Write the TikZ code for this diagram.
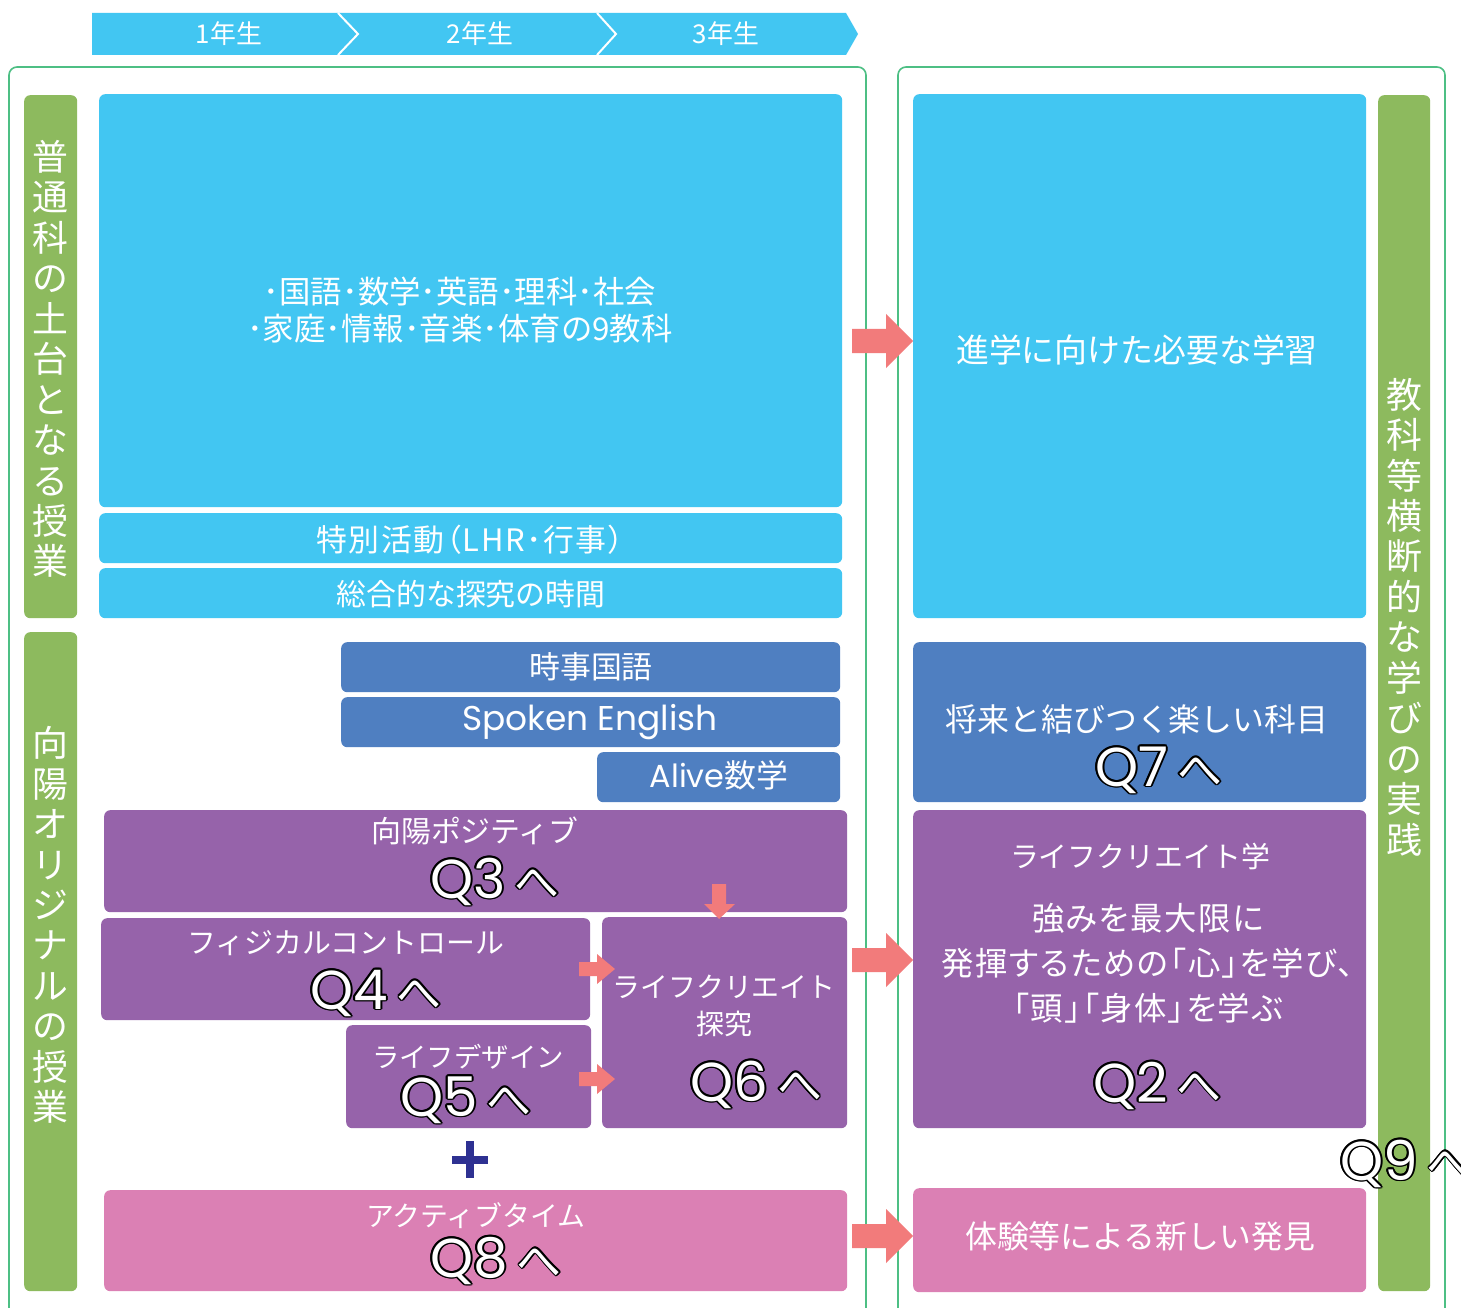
\documentclass[tikz,border=0pt]{standalone}
\usepackage{fontspec}
\setmainfont{Noto Sans CJK JP}
\newfontfamily\popp{Poppins}
\newfontfamily\paltf[RawFeature=+palt]{Noto Sans CJK JP}
\newfontfamily\paltw[RawFeature=+palt, LetterSpace=5]{Noto Sans CJK JP}
\definecolor{cyanb}{HTML}{42C6F2}
\definecolor{blueb}{HTML}{4F7FC1}
\definecolor{purpb}{HTML}{9663AA}
\definecolor{pinkb}{HTML}{DB80B4}
\definecolor{greenb}{HTML}{8DBA5E}
\definecolor{framec}{HTML}{4DBF84}
\definecolor{arrc}{HTML}{F27B7B}
\definecolor{navyc}{HTML}{2E3192}
\newcommand\mybox[6]{\node[boxs, fill=#6, minimum width={(#4-#2)*1bp}, minimum height={(#5-#3)*1bp}] (#1) at (#2,#3) {};}
\newcommand\qtext[1]{{\popp\fontsize{55}{55}\selectfont Q#1}\hspace{9bp}{\fontsize{45}{45}\selectfont へ}}
\newcommand\qlab[4]{%
  \foreach \a in {0,30,...,330} {\node[qtxt, text=black, shift={(\a:1.8)}] at (#2,#3) {\qtext{#4}};}
  \node[qtxt, text=white] (#1) at (#2,#3) {\qtext{#4}};}
\newcommand\bigarr[2]{\fill[arrc] (852,#2-12) -- (886,#2-12) -- (886,#2-27) -- (913,#2) -- (886,#2+27) -- (886,#2+12) -- (852,#2+12) -- cycle;}
\newcommand\smallarr[1]{\fill[arrc] (579,#1-7) -- (597,#1-7) -- (597,#1-15) -- (615,#1) -- (597,#1+15) -- (597,#1+7) -- (579,#1+7) -- cycle;}
\begin{document}
\begin{tikzpicture}[x=1bp,y=-1bp,
  boxs/.style={rounded corners=6bp, draw=none, inner sep=0pt, anchor=north west},
  txt/.style={text=white, inner sep=0pt, font=\fontsize{30}{36}\selectfont, align=center},
  vtxt/.style={text=white, inner sep=0pt, font=\fontsize{36}{40.6}\selectfont, align=center},
  qtxt/.style={inner sep=0pt, anchor=base west},
  frame/.style={draw=framec, line width=1.6bp, rounded corners=8bp}]
\useasboundingbox (0,0) rectangle (1461,1308);
\fill[white] (0,0) rectangle (1461,1308);
% header
\fill[cyanb] (92,13) -- (846,13) -- (858,34) -- (846,55) -- (92,55) -- cycle;
\draw[white, line width=2bp] (338,13) -- (358,34) -- (338,55);
\draw[white, line width=2bp] (597,13) -- (616,34) -- (597,55);
\node[txt, font=\fontsize{26}{30}\selectfont] (y1) at (229,34) {1年生};
\node[txt, font=\fontsize{26}{30}\selectfont] (y2) at (480,34) {2年生};
\node[txt, font=\fontsize{26}{30}\selectfont] (y3) at (726,34) {3年生};
% frames
\draw[frame] (9,1310) -- (9,67) -- (866,67) -- (866,1310);
\draw[frame] (898,1310) -- (898,67) -- (1445,67) -- (1445,1310);
% green bars
\mybox{g1}{24}{95}{77}{618}{greenb}
\mybox{g2}{24}{632}{77}{1291}{greenb}
\mybox{g3}{1378}{95}{1430}{1291}{greenb}
\node[vtxt] (g1t) at (50,359) {普\\通\\科\\の\\土\\台\\と\\な\\る\\授\\業};
\node[vtxt] (g2t) at (50,925) {向\\陽\\オ\\リ\\ジ\\ナ\\ル\\の\\授\\業};
\node[vtxt] (g3t) at (1404,617) {教\\科\\等\\横\\断\\的\\な\\学\\び\\の\\実\\践};
% left boxes
\mybox{kyoka}{99}{94}{842}{507}{cyanb}
\mybox{tokkatsu}{99}{513}{842}{563}{cyanb}
\mybox{sogo}{99}{568}{842}{618}{cyanb}
\mybox{jiji}{341}{642}{840}{692}{blueb}
\mybox{spoken}{341}{697}{840}{747}{blueb}
\mybox{alive}{597}{752}{840}{802}{blueb}
\mybox{posi}{104}{810}{847}{912}{purpb}
\mybox{phys}{101}{918}{590}{1020}{purpb}
\mybox{ldes}{346}{1025}{591}{1128}{purpb}
\mybox{ltan}{602}{917}{847}{1128}{purpb}
\mybox{active}{104}{1190}{847}{1291}{pinkb}
% right boxes
\mybox{shingaku}{913}{94}{1366}{618}{cyanb}
\mybox{shorai}{913}{642}{1366}{802}{blueb}
\mybox{lcgaku}{913}{810}{1366}{1128}{purpb}
\mybox{taiken}{913}{1188}{1366}{1292}{pinkb}
% texts left
\node[txt, font=\fontsize{31.5}{37}\selectfont] (k1) at (460,292) {･国語･数学･英語･理科･社会};
\node[txt, font=\fontsize{31.5}{37}\selectfont] (k2) at (460,329) {･家庭･情報･音楽･体育の9教科};
\node[txt, font=\paltw\fontsize{31}{34}\selectfont] (tk) at (470,540) {特別活動（LHR･行事）};
\node[txt, font=\fontsize{30}{34}\selectfont] (sg) at (471,594) {総合的な探究の時間};
\node[txt, font=\fontsize{31}{34}\selectfont] (jj) at (591,667) {時事国語};
\node[txt, font=\popp\fontsize{34.5}{38}\selectfont] (se) at (590,722) {Spoken English};
\node[txt, font=\fontsize{32}{36}\selectfont] (al) at (719,775) {{\popp Alive}数学};
\node[txt] (pt) at (475,831) {向陽ポジティブ};
\node[txt, font=\fontsize{29}{34}\selectfont] (ph) at (346,943) {フィジカルコントロール};
\node[txt, font=\fontsize{27.5}{32}\selectfont] (ld) at (468,1057) {ライフデザイン};
\node[txt, font=\fontsize{28}{37}\selectfont] (lt) at (724,1006) {ライフクリエイト\\探究};
\node[txt, font=\fontsize{28}{32}\selectfont] (at) at (476,1216) {アクティブタイム};
% texts right
\node[txt, font=\fontsize{33}{38}\selectfont] (sh) at (1137,350) {進学に向けた必要な学習};
\node[txt, font=\fontsize{32}{36}\selectfont] (so) at (1137,719) {将来と結びつく楽しい科目};
\node[txt, font=\fontsize{29}{34}\selectfont] (lc) at (1140,856) {ライフクリエイト学};
\node[txt, font=\paltw\fontsize{32.5}{45}\selectfont] (lc2) at (1148,963) {強みを最大限に\\発揮するための「心」を学び、\\「頭」「身体」を学ぶ};
\node[txt, font=\fontsize{32}{36}\selectfont] (tn) at (1140,1236) {体験等による新しい発見};
% arrows
\bigarr{0}{341}
\bigarr{0}{960}
\bigarr{0}{1236}
\smallarr{969}
\smallarr{1079}
\fill[arrc] (712,884) -- (726,884) -- (726,904) -- (735,904) -- (719,919) -- (704,904) -- (712,904) -- cycle;
% plus
\fill[navyc] (452,1156) rectangle (488,1164);
\fill[navyc] (466,1141) rectangle (474,1178);
% Q labels
\qlab{q3}{430}{898}{3}
\qlab{q4}{310}{1009}{4}
\qlab{q5}{400}{1116}{5}
\qlab{q6}{690}{1101}{6}
\qlab{q7}{1095}{786}{7}
\qlab{q2}{1093}{1102}{2}
\qlab{q8}{430}{1277}{8}
\qlab{q9}{1340}{1180}{9}
\end{tikzpicture}
\end{document}
